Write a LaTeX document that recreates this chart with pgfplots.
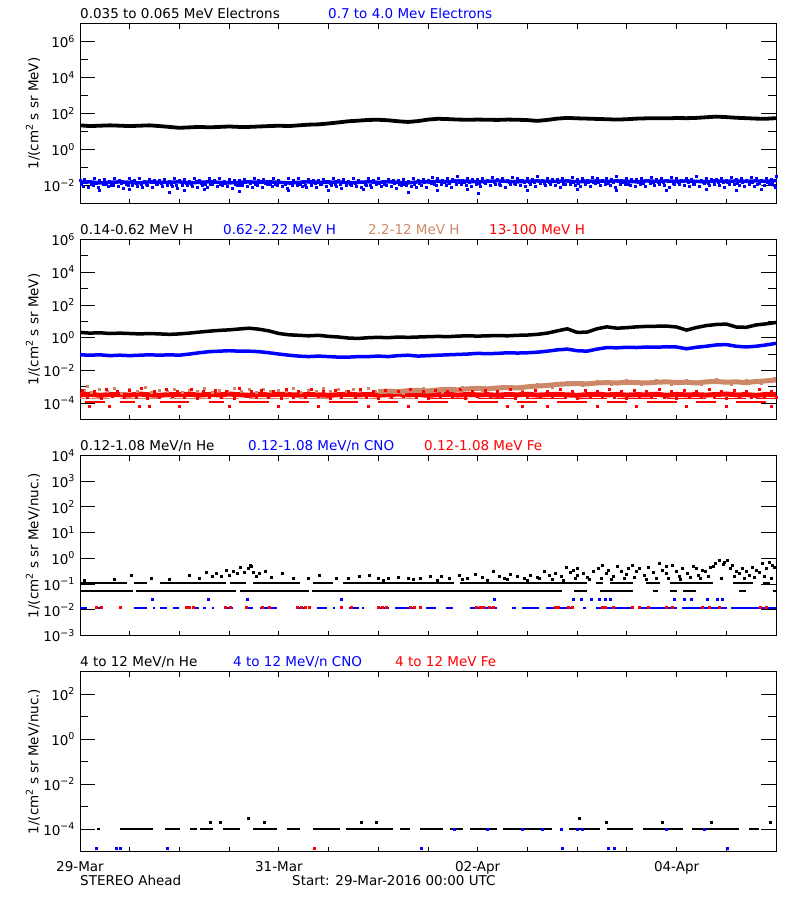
\documentclass[border=0pt]{standalone}
\usepackage{pgfplots}
\usepackage{pgfplotstable}
\pgfplotsset{compat=1.18}
\usepackage{fontspec}
\setmainfont{DejaVu Sans}
\definecolor{hblue}{RGB}{0,0,255}
\definecolor{hred}{RGB}{255,0,0}
\definecolor{hbrown}{RGB}{205,135,105}
\newcommand{\fs}{\fontsize{13.5bp}{16bp}\selectfont}
\newcommand{\sups}[1]{\raisebox{0.42em}{\fontsize{9.5bp}{10bp}\selectfont #1}}

\pgfplotsset{
  stpanel/.style={
    scale only axis, width=696bp, height=180bp,
    xmin=0, xmax=7,
    xtick={0,0.5,...,7}, xticklabels={},
    tick align=inside, tick pos=both,
    axis line style={line width=0.9bp},
    tick style={line width=0.9bp, black},
    major tick length=15bp, minor tick length=8bp,
    xtick style={/pgfplots/major tick length=5bp},
    ticklabel style={font=\fs},
    yticklabel style={xshift=-2bp},
    unbounded coords=jump,
  },
  dot/.style={only marks, mark=square*, mark size=1bp, mark options={line width=0pt}},
  seg/.style={line width=1.8bp},
}
\tikzset{t/.style={anchor=base west, inner sep=0pt}}

% d, low-energy electrons (v), 0.7-4 MeV electron band core (m)
\pgfplotstableread[row sep=\\]{
d v m\\
0.0 22 0.015\\ 0.1 20 0.016\\ 0.2 21 0.014\\ 0.3 22 0.015\\ 0.4 21 0.016\\ 0.5 20 0.015\\ 0.6 21 0.014\\ 0.7 22 0.016\\ 0.8 20 0.015\\ 0.9 18 0.015\\
1.0 16 0.016\\ 1.1 17 0.014\\ 1.2 18 0.015\\ 1.3 17 0.016\\ 1.4 18 0.015\\ 1.5 19 0.014\\ 1.6 18 0.015\\ 1.7 18 0.016\\ 1.8 19 0.015\\ 1.9 20 0.016\\
2.0 21 0.015\\ 2.1 20 0.014\\ 2.2 22 0.015\\ 2.3 24 0.016\\ 2.4 25 0.015\\ 2.5 28 0.015\\ 2.6 32 0.016\\ 2.7 37 0.014\\ 2.8 40 0.015\\ 2.9 44 0.016\\
3.0 45 0.015\\ 3.1 42 0.016\\ 3.2 37 0.015\\ 3.3 34 0.014\\ 3.4 38 0.016\\ 3.5 46 0.016\\ 3.6 51 0.017\\ 3.7 49 0.016\\ 3.8 46 0.018\\ 3.9 45 0.017\\
4.0 46 0.016\\ 4.1 45 0.017\\ 4.2 44 0.018\\ 4.3 46 0.017\\ 4.4 45 0.016\\ 4.5 43 0.017\\ 4.6 39 0.018\\ 4.7 44 0.017\\ 4.8 52 0.017\\ 4.9 57 0.018\\
5.0 54 0.016\\ 5.1 52 0.017\\ 5.2 50 0.018\\ 5.3 48 0.017\\ 5.4 46 0.018\\ 5.5 48 0.017\\ 5.6 52 0.016\\ 5.7 54 0.018\\ 5.8 55 0.017\\ 5.9 54 0.018\\
6.0 56 0.017\\ 6.1 55 0.018\\ 6.2 57 0.017\\ 6.3 62 0.016\\ 6.4 67 0.018\\ 6.5 63 0.017\\ 6.6 58 0.018\\ 6.7 55 0.017\\ 6.8 52 0.018\\ 6.9 51 0.017\\
7.0 55 0.019\\
}\elo

\pgfplotstableread[row sep=\\]{
d a xb b xc c\\
0.00 0.018 0.017 0.012 0.033 0.009\\ 0.05 0.022 0.067 0.014 0.083 0.008\\ 0.10 0.016 0.117 0.011 0.133 0.010\\ 0.15 0.025 0.167 0.013 0.183 0.0075\\
0.20 0.019 0.217 0.015 0.233 0.011\\ 0.25 0.021 0.267 0.012 0.283 0.0085\\ 0.30 0.017 0.317 0.010 0.333 0.010\\ 0.35 0.024 0.367 0.014 0.383 0.009\\
0.40 0.020 0.417 0.013 0.433 0.0068\\ 0.45 0.015 0.467 0.011 0.483 0.0095\\ 0.50 0.023 0.517 0.016 0.533 0.0105\\ 0.55 0.018 0.567 0.013 0.583 0.009\\
0.60 0.026 0.617 0.012 0.633 0.008\\ 0.65 0.017 0.667 0.012 0.683 0.010\\ 0.70 0.021 0.717 0.014 0.733 0.0075\\ 0.75 0.019 0.767 0.011 0.783 0.011\\
0.80 0.018 0.817 0.013 0.833 0.0085\\ 0.85 0.022 0.867 0.015 0.883 0.010\\ 0.90 0.016 0.917 0.012 0.933 0.009\\ 0.95 0.025 0.967 0.010 0.983 0.0068\\
1.00 0.019 1.017 0.014 1.033 0.0095\\ 1.05 0.021 1.067 0.013 1.083 0.0105\\ 1.10 0.017 1.117 0.011 1.133 0.009\\ 1.15 0.024 1.167 0.016 1.183 0.008\\
1.20 0.020 1.217 0.013 1.233 0.010\\ 1.25 0.015 1.267 0.012 1.283 0.0075\\ 1.30 0.023 1.317 0.012 1.333 0.011\\ 1.35 0.018 1.367 0.014 1.383 0.0085\\
1.40 0.026 1.417 0.011 1.433 0.010\\ 1.45 0.017 1.467 0.013 1.483 0.009\\ 1.50 0.021 1.517 0.015 1.533 0.0068\\ 1.55 0.019 1.567 0.012 1.583 0.0095\\
1.60 0.018 1.617 0.010 1.633 0.0105\\ 1.65 0.022 1.667 0.014 1.683 0.009\\ 1.70 0.016 1.717 0.013 1.733 0.008\\ 1.75 0.025 1.767 0.011 1.783 0.010\\
1.80 0.019 1.817 0.016 1.833 0.0075\\ 1.85 0.021 1.867 0.013 1.883 0.011\\ 1.90 0.017 1.917 0.012 1.933 0.0085\\ 1.95 0.024 1.967 0.012 1.983 0.010\\
2.00 0.020 2.017 0.014 2.033 0.009\\ 2.05 0.015 2.067 0.011 2.083 0.0068\\ 2.10 0.023 2.117 0.013 2.133 0.0095\\ 2.15 0.018 2.167 0.015 2.183 0.0105\\
2.20 0.026 2.217 0.012 2.233 0.009\\ 2.25 0.017 2.267 0.010 2.283 0.008\\ 2.30 0.021 2.317 0.014 2.333 0.010\\ 2.35 0.019 2.367 0.013 2.383 0.0075\\
2.40 0.018 2.417 0.011 2.433 0.011\\ 2.45 0.022 2.467 0.016 2.483 0.0085\\ 2.50 0.016 2.517 0.013 2.533 0.010\\ 2.55 0.025 2.567 0.012 2.583 0.009\\
2.60 0.019 2.617 0.012 2.633 0.0068\\ 2.65 0.021 2.667 0.014 2.683 0.0095\\ 2.70 0.017 2.717 0.011 2.733 0.0105\\ 2.75 0.024 2.767 0.013 2.783 0.009\\
2.80 0.020 2.817 0.015 2.833 0.008\\ 2.85 0.015 2.867 0.012 2.883 0.010\\ 2.90 0.023 2.917 0.010 2.933 0.0075\\ 2.95 0.018 2.967 0.014 2.983 0.011\\
3.00 0.026 3.017 0.013 3.033 0.0085\\ 3.05 0.017 3.067 0.011 3.083 0.010\\ 3.10 0.021 3.117 0.016 3.133 0.009\\ 3.15 0.019 3.167 0.013 3.183 0.0068\\
3.20 0.018 3.217 0.012 3.233 0.0095\\ 3.25 0.022 3.267 0.012 3.283 0.0105\\ 3.30 0.016 3.317 0.014 3.333 0.009\\ 3.35 0.025 3.367 0.011 3.383 0.008\\
3.40 0.019 3.417 0.013 3.433 0.010\\ 3.45 0.021 3.467 0.015 3.483 0.0075\\ 3.50 0.020 3.517 0.014 3.533 0.013\\ 3.55 0.028 3.567 0.012 3.583 0.0098\\
3.60 0.023 3.617 0.016 3.633 0.012\\ 3.65 0.018 3.667 0.015 3.683 0.010\\ 3.70 0.026 3.717 0.013 3.733 0.0078\\ 3.75 0.021 3.767 0.018 3.783 0.011\\
3.80 0.030 3.817 0.015 3.833 0.012\\ 3.85 0.020 3.867 0.014 3.883 0.010\\ 3.90 0.024 3.917 0.014 3.933 0.009\\ 3.95 0.022 3.967 0.016 3.983 0.012\\
4.00 0.021 4.017 0.013 4.033 0.0086\\ 4.05 0.025 4.067 0.015 4.083 0.013\\ 4.10 0.019 4.117 0.017 4.133 0.0098\\ 4.15 0.029 4.167 0.014 4.183 0.012\\
4.20 0.022 4.217 0.012 4.233 0.010\\ 4.25 0.024 4.267 0.016 4.283 0.0078\\ 4.30 0.020 4.317 0.015 4.333 0.011\\ 4.35 0.028 4.367 0.013 4.383 0.012\\
4.40 0.023 4.417 0.018 4.433 0.010\\ 4.45 0.018 4.467 0.015 4.483 0.009\\ 4.50 0.026 4.517 0.014 4.533 0.012\\ 4.55 0.021 4.567 0.014 4.583 0.0086\\
4.60 0.030 4.617 0.016 4.633 0.013\\ 4.65 0.020 4.667 0.013 4.683 0.0098\\ 4.70 0.024 4.717 0.015 4.733 0.012\\ 4.75 0.022 4.767 0.017 4.783 0.010\\
4.80 0.021 4.817 0.014 4.833 0.0078\\ 4.85 0.025 4.867 0.012 4.883 0.011\\ 4.90 0.019 4.917 0.016 4.933 0.012\\ 4.95 0.029 4.967 0.015 4.983 0.010\\
5.00 0.022 5.017 0.013 5.033 0.009\\ 5.05 0.024 5.067 0.018 5.083 0.012\\ 5.10 0.020 5.117 0.015 5.133 0.0086\\ 5.15 0.028 5.167 0.014 5.183 0.013\\
5.20 0.023 5.217 0.014 5.233 0.0098\\ 5.25 0.018 5.267 0.016 5.283 0.012\\ 5.30 0.026 5.317 0.013 5.333 0.010\\ 5.35 0.021 5.367 0.015 5.383 0.0078\\
5.40 0.030 5.417 0.017 5.433 0.011\\ 5.45 0.020 5.467 0.014 5.483 0.012\\ 5.50 0.024 5.517 0.012 5.533 0.010\\ 5.55 0.022 5.567 0.016 5.583 0.009\\
5.60 0.021 5.617 0.015 5.633 0.012\\ 5.65 0.025 5.667 0.013 5.683 0.0086\\ 5.70 0.019 5.717 0.018 5.733 0.013\\ 5.75 0.029 5.767 0.015 5.783 0.0098\\
5.80 0.022 5.817 0.014 5.833 0.012\\ 5.85 0.024 5.867 0.014 5.883 0.010\\ 5.90 0.020 5.917 0.016 5.933 0.0078\\ 5.95 0.028 5.967 0.013 5.983 0.011\\
6.00 0.023 6.017 0.015 6.033 0.012\\ 6.05 0.018 6.067 0.017 6.083 0.010\\ 6.10 0.026 6.117 0.014 6.133 0.009\\ 6.15 0.021 6.167 0.012 6.183 0.012\\
6.20 0.030 6.217 0.016 6.233 0.0086\\ 6.25 0.020 6.267 0.015 6.283 0.013\\ 6.30 0.024 6.317 0.013 6.333 0.0098\\ 6.35 0.022 6.367 0.018 6.383 0.012\\
6.40 0.021 6.417 0.015 6.433 0.010\\ 6.45 0.025 6.467 0.014 6.483 0.0078\\ 6.50 0.019 6.517 0.014 6.533 0.011\\ 6.55 0.029 6.567 0.016 6.583 0.012\\
6.60 0.022 6.617 0.013 6.633 0.010\\ 6.65 0.024 6.667 0.015 6.683 0.009\\ 6.70 0.020 6.717 0.017 6.733 0.012\\ 6.75 0.028 6.767 0.014 6.783 0.0086\\
6.80 0.023 6.817 0.012 6.833 0.013\\ 6.85 0.018 6.867 0.016 6.883 0.0098\\ 6.90 0.026 6.917 0.015 6.933 0.012\\ 6.95 0.021 6.967 0.013 6.983 0.010\\
7.00 0.030 6.995 0.018 6.998 0.0078\\
}\ehi

\pgfplotstableread[row sep=\\]{
d k b\\
0.0 2.1 0.09\\ 0.1 1.9 0.085\\ 0.2 2.0 0.09\\ 0.3 1.8 0.08\\ 0.4 1.9 0.085\\
0.5 1.8 0.08\\ 0.6 1.7 0.085\\ 0.7 1.8 0.09\\ 0.8 1.7 0.085\\ 0.9 1.6 0.09\\
1.0 1.7 0.085\\ 1.1 1.9 0.10\\ 1.2 2.2 0.12\\ 1.3 2.5 0.14\\ 1.4 2.8 0.15\\
1.5 3.0 0.16\\ 1.6 3.4 0.15\\ 1.7 3.8 0.15\\ 1.8 3.3 0.14\\ 1.9 2.6 0.12\\
2.0 1.8 0.10\\ 2.1 1.5 0.085\\ 2.2 1.4 0.075\\ 2.3 1.3 0.07\\ 2.4 1.4 0.075\\
2.5 1.2 0.07\\ 2.6 1.1 0.065\\ 2.7 0.95 0.065\\ 2.8 0.9 0.07\\ 2.9 1.0 0.07\\
3.0 1.05 0.075\\ 3.1 1.0 0.07\\ 3.2 1.1 0.08\\ 3.3 1.05 0.085\\ 3.4 1.1 0.075\\
3.5 1.15 0.08\\ 3.6 1.2 0.085\\ 3.7 1.15 0.09\\ 3.8 1.25 0.095\\ 3.9 1.3 0.10\\
4.0 1.25 0.11\\ 4.1 1.3 0.105\\ 4.2 1.35 0.11\\ 4.3 1.3 0.12\\ 4.4 1.4 0.115\\
4.5 1.45 0.12\\ 4.6 1.6 0.13\\ 4.7 1.9 0.15\\ 4.8 2.6 0.18\\ 4.9 3.5 0.20\\
5.0 2.1 0.16\\ 5.1 2.2 0.15\\ 5.2 3.5 0.20\\ 5.3 4.6 0.25\\ 5.4 3.8 0.24\\
5.5 4.1 0.26\\ 5.6 4.6 0.25\\ 5.7 4.9 0.27\\ 5.8 5.0 0.26\\ 5.9 5.1 0.28\\
6.0 4.5 0.27\\ 6.1 2.9 0.21\\ 6.2 4.2 0.26\\ 6.3 5.5 0.30\\ 6.4 6.4 0.36\\
6.5 6.8 0.38\\ 6.6 4.5 0.30\\ 6.7 4.3 0.27\\ 6.8 6.0 0.30\\ 6.9 7.0 0.36\\
7.0 8.5 0.45\\
}\hlo

\pgfplotstableread[row sep=\\]{
d v\\
0.0 3.2e-4\\ 0.1 3.5e-4\\ 0.2 3.0e-4\\ 0.3 3.4e-4\\ 0.4 3.3e-4\\ 0.5 3.1e-4\\ 0.6 3.6e-4\\ 0.7 3.2e-4\\
0.8 3.0e-4\\ 0.9 3.4e-4\\ 1.0 3.3e-4\\ 1.1 3.5e-4\\ 1.2 3.1e-4\\ 1.3 3.4e-4\\ 1.4 3.2e-4\\ 1.5 3.6e-4\\
1.6 3.3e-4\\ 1.7 3.0e-4\\ 1.8 3.4e-4\\ 1.9 3.2e-4\\ 2.0 3.5e-4\\ 2.1 3.3e-4\\ 2.2 3.1e-4\\ 2.3 3.4e-4\\
2.4 3.2e-4\\ 2.5 3.0e-4\\ 2.6 3.3e-4\\ 2.7 3.5e-4\\ 2.8 3.2e-4\\ 2.9 3.4e-4\\ 3.0 3.1e-4\\ 3.1 3.3e-4\\
3.2 3.6e-4\\ 3.3 3.2e-4\\ 3.4 3.4e-4\\ 3.5 3.0e-4\\ 3.6 3.3e-4\\ 3.7 3.5e-4\\ 3.8 3.1e-4\\ 3.9 3.4e-4\\
4.0 3.2e-4\\ 4.1 3.3e-4\\ 4.2 3.0e-4\\ 4.3 3.4e-4\\ 4.4 3.2e-4\\ 4.5 3.5e-4\\ 4.6 3.1e-4\\ 4.7 3.3e-4\\
4.8 3.4e-4\\ 4.9 3.2e-4\\ 5.0 3.0e-4\\ 5.1 3.3e-4\\ 5.2 3.5e-4\\ 5.3 3.2e-4\\ 5.4 3.4e-4\\ 5.5 3.1e-4\\
5.6 3.3e-4\\ 5.7 3.2e-4\\ 5.8 3.5e-4\\ 5.9 3.0e-4\\ 6.0 3.4e-4\\ 6.1 3.2e-4\\ 6.2 3.3e-4\\ 6.3 3.1e-4\\
6.4 3.4e-4\\ 6.5 3.6e-4\\ 6.6 3.2e-4\\ 6.7 3.3e-4\\ 6.8 3.0e-4\\ 6.9 3.4e-4\\ 7.0 3.3e-4\\
}\redband

\pgfplotstableread[row sep=\\]{
d v\\
3.0 5.0e-4\\ 3.1 5.5e-4\\ 3.2 5.0e-4\\ 3.3 5.8e-4\\ 3.4 6.0e-4\\ 3.5 5.5e-4\\ 3.6 6.5e-4\\ 3.7 7.0e-4\\
3.8 6.5e-4\\ 3.9 7.5e-4\\ 4.0 8.0e-4\\ 4.1 7.5e-4\\ 4.2 8.5e-4\\ 4.3 9.0e-4\\ 4.4 8.5e-4\\ 4.5 1.0e-3\\
4.6 1.1e-3\\ 4.7 1.2e-3\\ 4.8 1.4e-3\\ 4.9 1.5e-3\\ 5.0 1.6e-3\\ 5.1 1.5e-3\\ 5.2 1.7e-3\\ 5.3 1.8e-3\\
5.4 1.7e-3\\ 5.5 1.9e-3\\ 5.6 1.8e-3\\ 5.7 1.7e-3\\ 5.8 1.9e-3\\ 5.9 2.0e-3\\ 6.0 1.8e-3\\ 6.1 1.9e-3\\
6.2 1.7e-3\\ 6.3 2.0e-3\\ 6.4 2.1e-3\\ 6.5 1.9e-3\\ 6.6 2.0e-3\\ 6.7 1.8e-3\\ 6.8 2.1e-3\\ 6.9 2.3e-3\\
7.0 2.6e-3\\
}\brownband

\begin{document}
\begin{tikzpicture}[font=\fs]
\path[use as bounding box] (0,0) rectangle (800bp,-900bp);

% ---------------- Panel 1 ----------------
\begin{axis}[stpanel, ymode=log, at={(80bp,-23.5bp)}, anchor=north west,
  ymin=1e-3, ymax=1e7,
  ytick={1e-2,1,1e2,1e4,1e6},
  yticklabels={10\sups{−2},10\sups{0},10\sups{2},10\sups{4},10\sups{6}},
  minor ytick={1e-1,1e1,1e3,1e5}]
\addplot[black, line width=3.8bp, line join=round] table[x=d,y=v]{\elo};
\addplot[hblue, line width=3.5bp, line join=round] table[x=d,y=m]{\elo};
\addplot[dot, hblue] table[x=d,y=a]{\ehi};
\addplot[dot, hblue] table[x=xb,y=b]{\ehi};
\addplot[dot, hblue] table[x=xc,y=c]{\ehi};
\addplot[dot, hblue] coordinates {(0.2,0.005)(0.5,0.006)(0.9,0.004)(1.05,0.005)(1.25,0.006)(1.6,0.0045)
 (2.1,0.0055)(2.5,0.005)(2.85,0.006)(3.3,0.0042)(3.6,0.0055)(3.9,0.006)(4.01,0.0035)(4.5,0.005)
 (5.0,0.006)(5.4,0.005)(5.9,0.0055)(6.3,0.006)(6.6,0.005)(6.85,0.006)};
\end{axis}
\node[t] at (80bp,-18.3bp) {0.035 to 0.065 MeV Electrons};
\node[t, text=hblue] at (328bp,-18.3bp) {0.7 to 4.0 Mev Electrons};
\node[rotate=90] at (33bp,-113.5bp) {1/(cm\sups{2} s sr MeV)};

% ---------------- Panel 2 ----------------
\begin{axis}[stpanel, ymode=log, at={(80bp,-239.5bp)}, anchor=north west,
  ymin=1e-5, ymax=1e6,
  ytick={1e-4,1e-2,1,1e2,1e4,1e6},
  yticklabels={10\sups{−4},10\sups{−2},10\sups{0},10\sups{2},10\sups{4},10\sups{6}},
  minor ytick={1e-3,1e-1,1e1,1e3,1e5}]
\addplot[dot, hbrown] coordinates {(0.05,6e-4)(0.12,4.5e-4)(0.2,7e-4)(0.28,5e-4)(0.35,8e-4)(0.42,4e-4)
 (0.5,6.5e-4)(0.58,5e-4)(0.66,9e-4)(0.72,4.5e-4)(0.8,6e-4)(0.88,5.5e-4)(0.95,7e-4)(1.03,4.5e-4)
 (1.1,6e-4)(1.18,5e-4)(1.25,7.5e-4)(1.33,4.5e-4)(1.4,6e-4)(1.48,5.5e-4)(1.55,8e-4)(1.62,5e-4)
 (1.7,6.5e-4)(1.78,4.5e-4)(1.85,7e-4)(1.92,5e-4)(2.0,6e-4)(2.08,5.5e-4)(2.15,7.5e-4)(2.22,4.5e-4)
 (2.3,6e-4)(2.38,5e-4)(2.45,8e-4)(2.52,5.5e-4)(2.6,6.5e-4)(2.68,5e-4)(2.75,7e-4)(2.82,6e-4)
 (2.9,8e-4)(2.97,5.5e-4)(0.08,1e-3)};
\addplot[seg, hbrown] coordinates {(0.0,1.9e-4)(0.3,1.9e-4)(0.35,nan)(0.4,1.9e-4)(0.8,1.9e-4)(0.85,nan)
 (0.9,1.9e-4)(1.3,1.9e-4)(1.35,nan)(1.4,1.9e-4)(1.6,1.9e-4)(1.65,nan)(1.7,1.9e-4)(2.1,1.9e-4)(2.15,nan)
 (2.2,1.9e-4)(2.5,1.9e-4)(2.55,nan)(2.6,1.9e-4)(3.0,1.9e-4)(3.05,nan)(3.1,1.9e-4)(3.4,1.9e-4)};
\addplot[hred, line width=5bp] table[x=d,y=v]{\redband};
\addplot[dot, hred] coordinates {(0.03,6e-4)(0.15,5e-4)(0.27,7e-4)(0.38,5.5e-4)(0.5,6e-4)(0.62,8e-4)
 (0.75,5e-4)(0.87,6.5e-4)(0.98,5.5e-4)(1.12,7e-4)(1.24,5e-4)(1.36,6e-4)(1.47,5.5e-4)(1.6,7.5e-4)
 (1.72,5e-4)(1.83,6e-4)(1.95,5.5e-4)(2.08,7e-4)(2.2,5e-4)(2.33,6.5e-4)(2.45,5.5e-4)(2.57,6e-4)
 (2.7,5e-4)(2.82,7e-4)(2.95,5.5e-4)(3.07,6e-4)(3.2,5e-4)(3.32,6.5e-4)(3.45,5.5e-4)(3.58,6e-4)
 (3.7,5e-4)(3.83,7e-4)(3.95,5.5e-4)(4.08,6e-4)(4.2,5e-4)(4.33,6.5e-4)(4.45,5.5e-4)(4.58,6e-4)
 (4.7,5e-4)(4.83,7e-4)(4.95,5.5e-4)(5.08,6e-4)(5.2,5e-4)(5.33,6.5e-4)(5.45,5.5e-4)(5.58,6e-4)
 (5.7,5e-4)(5.83,7e-4)(5.95,5.5e-4)(6.08,6e-4)(6.2,5e-4)(6.33,6.5e-4)(6.45,5.5e-4)(6.58,6e-4)
 (6.7,5e-4)(6.83,7e-4)(6.95,5.5e-4)};
\addplot[dot, hred] coordinates {(0.08,2.2e-4)(0.22,2.0e-4)(0.33,2.4e-4)(0.45,2.1e-4)(0.57,2.3e-4)
 (0.68,2.0e-4)(0.8,2.2e-4)(0.93,2.4e-4)(1.05,2.1e-4)(1.18,2.0e-4)(1.3,2.3e-4)(1.42,2.2e-4)(1.55,2.0e-4)
 (1.67,2.4e-4)(1.78,2.1e-4)(1.9,2.2e-4)(2.03,2.0e-4)(2.15,2.3e-4)(2.27,2.1e-4)(2.4,2.4e-4)(2.52,2.0e-4)
 (2.63,2.2e-4)(2.77,2.1e-4)(2.88,2.3e-4)(3.0,2.0e-4)(3.13,2.2e-4)(3.25,2.4e-4)(3.38,2.1e-4)(3.5,2.0e-4)
 (3.63,2.3e-4)(3.75,2.2e-4)(3.88,2.0e-4)(4.0,2.4e-4)(4.13,2.1e-4)(4.25,2.2e-4)(4.38,2.0e-4)(4.5,2.3e-4)
 (4.63,2.1e-4)(4.75,2.2e-4)(4.88,2.4e-4)(5.0,2.0e-4)(5.13,2.2e-4)(5.25,2.1e-4)(5.38,2.3e-4)(5.5,2.0e-4)
 (5.63,2.2e-4)(5.75,2.4e-4)(5.88,2.1e-4)(6.0,2.0e-4)(6.13,2.2e-4)(6.25,2.3e-4)(6.38,2.1e-4)(6.5,2.0e-4)
 (6.63,2.4e-4)(6.75,2.2e-4)(6.88,2.1e-4)(7.0,2.3e-4)};
\addplot[seg, hred] coordinates {(3.5,1.9e-4)(3.9,1.9e-4)(3.95,nan)(4.0,1.9e-4)(4.4,1.9e-4)(4.45,nan)
 (4.5,1.9e-4)(4.9,1.9e-4)(4.95,nan)(5.0,1.9e-4)(5.3,1.9e-4)(5.35,nan)(5.4,1.9e-4)(5.8,1.9e-4)(5.85,nan)
 (5.9,1.9e-4)(6.3,1.9e-4)(6.35,nan)(6.4,1.9e-4)(6.7,1.9e-4)(6.75,nan)(6.8,1.9e-4)(7.0,1.9e-4)};
\addplot[seg, hred] coordinates {(0.05,1.2e-4)(0.25,1.2e-4)(0.3,nan)(0.4,1.2e-4)(0.55,1.2e-4)(0.6,nan)
 (0.8,1.2e-4)(1.1,1.2e-4)(1.15,nan)(1.3,1.2e-4)(1.45,1.2e-4)(1.5,nan)(1.6,1.2e-4)(1.9,1.2e-4)(1.95,nan)
 (2.1,1.2e-4)(2.3,1.2e-4)(2.35,nan)(2.5,1.2e-4)(2.8,1.2e-4)(2.85,nan)(3.0,1.2e-4)(3.2,1.2e-4)(3.25,nan)
 (3.4,1.2e-4)(3.7,1.2e-4)(3.75,nan)(3.9,1.2e-4)(4.2,1.2e-4)(4.25,nan)(4.4,1.2e-4)(4.6,1.2e-4)(4.65,nan)
 (4.8,1.2e-4)(5.1,1.2e-4)(5.15,nan)(5.3,1.2e-4)(5.5,1.2e-4)(5.55,nan)(5.7,1.2e-4)(6.0,1.2e-4)(6.05,nan)
 (6.2,1.2e-4)(6.4,1.2e-4)(6.45,nan)(6.6,1.2e-4)(6.9,1.2e-4)};
\addplot[dot, hred] coordinates {(0.1,6e-5)(0.3,6e-5)(0.6,6e-5)(0.7,6e-5)(1.0,6e-5)(1.5,6e-5)(2.0,6e-5)
 (2.4,6e-5)(2.9,6e-5)(3.3,6e-5)(4.3,6e-5)(4.45,6e-5)(4.7,6e-5)(5.2,6e-5)(5.6,6e-5)(6.1,6e-5)(6.5,6e-5)(6.95,6e-5)};
\addplot[hbrown, line width=5bp] table[x=d,y=v]{\brownband};
\addplot[dot, hbrown] coordinates {(3.25,4e-4)(3.45,8e-4)(3.65,4.5e-4)(3.85,9.5e-4)(4.05,5.5e-4)(4.25,1.1e-3)
 (4.45,6.5e-4)(4.6,1.4e-3)(4.75,9e-4)(4.9,1.9e-3)(5.05,1.2e-3)(5.2,2.2e-3)(5.35,1.4e-3)(5.5,2.4e-3)
 (5.65,1.3e-3)(5.8,2.3e-3)(5.95,1.4e-3)(6.1,2.5e-3)(6.25,1.3e-3)(6.4,2.6e-3)(6.55,1.4e-3)(6.7,2.4e-3)
 (6.85,1.5e-3)(6.98,3.2e-3)};
\addplot[hblue, line width=3.5bp, line join=round] table[x=d,y=b]{\hlo};
\addplot[black, line width=3.5bp, line join=round] table[x=d,y=k]{\hlo};
\end{axis}
\node[t] at (80bp,-234.3bp) {0.14-0.62 MeV H};
\node[t, text=hblue] at (223bp,-234.3bp) {0.62-2.22 MeV H};
\node[t, text=hbrown] at (368bp,-234.3bp) {2.2-12 MeV H};
\node[t, text=hred] at (489bp,-234.3bp) {13-100 MeV H};
\node[rotate=90] at (33bp,-329.5bp) {1/(cm\sups{2} s sr MeV)};

% ---------------- Panel 3 ----------------
\begin{axis}[stpanel, ymode=log, at={(80bp,-455.5bp)}, anchor=north west,
  ymin=1e-3, ymax=1e4, yminorticks=false,
  ytick={1e-3,1e-2,1e-1,1,1e1,1e2,1e3,1e4},
  yticklabels={10\sups{−3},10\sups{−2},10\sups{−1},10\sups{0},10\sups{1},10\sups{2},10\sups{3},10\sups{4}}]
\addplot[seg, black] coordinates {(0.0,0.055)(0.53,0.055)(0.54,nan)(0.56,0.055)(1.57,0.055)(1.59,nan)
 (1.61,0.055)(2.3,0.055)(2.31,nan)(2.33,0.055)(4.85,0.055)(4.9,nan)(4.97,0.055)(5.1,0.055)(5.15,nan)
 (5.23,0.055)(5.56,0.055)(5.6,nan)(5.76,0.055)(5.81,0.055)(5.85,nan)(5.93,0.055)(6.0,0.055)(6.02,nan)
 (6.06,0.055)(6.2,0.055)(6.3,nan)(6.63,0.055)(6.7,0.055)(6.8,nan)(6.97,0.055)(7.0,0.055)};
\addplot[seg, black] coordinates {(0.0,0.11)(0.47,0.11)(0.5,nan)(0.54,0.11)(0.67,0.11)(0.7,nan)
 (0.8,0.11)(1.47,0.11)(1.49,nan)(1.51,0.11)(1.67,0.11)(1.7,nan)(1.74,0.11)(2.21,0.11)(2.25,nan)
 (2.34,0.11)(2.54,0.11)(2.6,nan)(2.65,0.11)(3.76,0.11)(3.79,nan)(3.82,0.11)(5.1,0.11)(5.15,nan)
 (5.19,0.11)(5.26,0.11)(5.3,nan)(5.33,0.11)(5.56,0.11)(5.6,nan)(5.69,0.11)(5.83,0.11)(5.9,nan)
 (5.93,0.11)(6.37,0.11)(6.4,nan)(6.57,0.11)(6.77,0.11)(6.8,nan)(6.87,0.11)(6.94,0.11)};
\addplot[dot, black] coordinates {(0.05,0.14)(0.35,0.15)(0.52,0.21)(0.72,0.16)(0.9,0.15)(1.1,0.21)
 (1.2,0.17)(1.27,0.27)(1.33,0.19)(1.37,0.26)(1.42,0.2)(1.47,0.35)(1.5,0.22)(1.54,0.3)(1.58,0.25)
 (1.61,0.45)(1.65,0.28)(1.69,0.4)(1.71,0.55)(1.72,0.48)(1.74,0.27)(1.78,0.2)(1.81,0.26)(1.87,0.3)
 (1.93,0.18)(2.04,0.26)(2.15,0.17)(2.3,0.16)(2.41,0.21)(2.58,0.17)(2.7,0.16)(2.81,0.19)(2.91,0.21)
 (3.0,0.17)(3.1,0.16)(3.2,0.18)(3.3,0.16)(3.42,0.17)(3.53,0.19)(3.64,0.2)(3.72,0.16)(3.82,0.21)
 (3.9,0.17)(3.98,0.24)(4.05,0.18)(4.16,0.3)(4.22,0.2)(4.27,0.17)(4.33,0.24)(4.4,0.19)(4.47,0.16)
 (4.53,0.21)(4.6,0.18)(4.67,0.3)(4.72,0.22)(4.78,0.26)(4.84,0.19)(4.89,0.45)(4.93,0.28)(4.96,0.35)
 (5.0,0.22)(5.06,0.26)(5.1,0.18)(5.16,0.3)(5.21,0.39)(5.26,0.55)(5.3,0.25)(5.32,0.35)(5.37,0.2)
 (5.41,0.5)(5.45,0.3)(5.5,0.24)(5.56,0.55)(5.6,0.3)(5.63,0.39)(5.68,0.22)(5.72,0.45)(5.77,0.28)
 (5.83,0.63)(5.86,0.35)(5.9,0.25)(5.96,0.55)(6.0,0.3)(6.03,0.2)(6.06,0.39)(6.11,0.26)(6.17,0.5)
 (6.22,0.22)(6.26,0.35)(6.29,0.3)(6.34,0.45)(6.39,0.63)(6.43,0.81)(6.47,0.6)(6.51,0.85)(6.54,0.4)
 (6.56,0.55)(6.6,0.3)(6.63,0.25)(6.66,0.39)(6.7,0.3)(6.73,0.22)(6.76,0.45)(6.8,0.35)(6.83,0.28)
 (6.86,0.63)(6.9,0.4)(6.93,0.72)(6.96,0.55)(6.98,0.45)
 (3.05,0.14)(3.35,0.15)(3.6,0.14)(3.85,0.15)(4.1,0.14)(4.3,0.15)(4.5,0.14)(4.62,0.16)(4.75,0.15)
 (4.86,0.14)(4.98,0.16)(5.12,0.15)(5.24,0.17)(5.35,0.15)(5.48,0.16)(5.58,0.18)(5.7,0.15)(5.8,0.17)
 (5.92,0.16)(6.04,0.15)(6.14,0.18)(6.24,0.16)(6.32,0.2)(6.45,0.17)(6.58,0.19)(6.68,0.16)(6.78,0.18)
 (6.88,0.2)(6.95,0.17)(5.0,0.42)(5.52,0.4)(6.2,0.42)(6.48,0.7)(6.37,0.5)(5.9,0.5)};
\addplot[seg, hblue] coordinates {(0.0,0.012)(0.07,0.012)(0.1,nan)(0.17,0.012)(0.2,0.012)(0.25,nan)
 (0.39,0.012)(0.42,0.012)(0.45,nan)(0.54,0.012)(0.67,0.012)(0.7,nan)(0.73,0.012)(0.75,0.012)(0.77,nan)
 (0.8,0.012)(0.87,0.012)(0.9,nan)(0.94,0.012)(1.0,0.012)(1.03,nan)(1.06,0.012)(1.08,0.012)(1.1,nan)
 (1.16,0.012)(1.2,0.012)(1.22,nan)(1.24,0.012)(1.27,0.012)(1.3,nan)(1.33,0.012)(1.35,0.012)(1.4,nan)
 (1.47,0.012)(1.54,0.012)(1.6,nan)(1.67,0.012)(1.74,0.012)(1.77,nan)(1.81,0.012)(1.98,0.012)(2.05,nan)
 (2.18,0.012)(2.28,0.012)(2.33,nan)(2.38,0.012)(2.48,0.012)(2.5,nan)(2.54,0.012)(2.56,0.012)(2.6,nan)
 (2.71,0.012)(2.81,0.012)(2.83,nan)(2.84,0.012)(2.86,0.012)(2.9,nan)(3.01,0.012)(3.11,0.012)(3.15,nan)
 (3.17,0.012)(3.38,0.012)(3.42,nan)(3.48,0.012)(3.58,0.012)(3.62,nan)(3.68,0.012)(3.75,0.012)(3.8,nan)
 (3.92,0.012)(4.19,0.012)(4.25,nan)(4.34,0.012)(4.39,0.012)(4.42,nan)(4.45,0.012)(4.62,0.012)(4.65,nan)
 (4.69,0.012)(4.96,0.012)(5.0,nan)(5.06,0.012)(5.09,0.012)(5.13,nan)(5.19,0.012)(5.56,0.012)(5.6,nan)
 (5.63,0.012)(6.0,0.012)(6.03,nan)(6.05,0.012)(6.51,0.012)(6.53,nan)(6.55,0.012)(7.0,0.012)};
\addplot[dot, hblue] coordinates {(0.73,0.025)(1.29,0.025)(1.68,0.025)(2.63,0.025)(4.17,0.025)(4.96,0.025)
 (5.04,0.025)(5.14,0.025)(5.22,0.025)(5.29,0.025)(5.34,0.025)(5.98,0.025)(6.08,0.025)(6.15,0.025)
 (6.31,0.025)(6.41,0.025)(6.46,0.025)};
\addplot[dot, hred] coordinates {(0.17,0.012)(0.22,0.012)(0.41,0.012)(1.07,0.012)(1.1,0.012)(1.14,0.012)
 (1.46,0.012)(1.51,0.012)(1.67,0.012)(1.84,0.012)(1.91,0.012)(2.19,0.012)(2.23,0.012)(2.27,0.012)
 (2.31,0.012)(2.63,0.012)(2.73,0.012)(3.0,0.012)(3.04,0.012)(3.08,0.012)(3.32,0.012)(3.36,0.012)
 (3.42,0.012)(3.99,0.012)(4.03,0.012)(4.06,0.012)(4.12,0.012)(4.16,0.012)(4.78,0.012)(4.81,0.012)
 (4.91,0.012)(4.95,0.012)(5.25,0.012)(5.29,0.012)(5.37,0.012)(5.56,0.012)(5.63,0.012)(5.72,0.012)
 (5.9,0.012)(5.96,0.012)(6.26,0.012)(6.33,0.012)(6.43,0.012)(6.84,0.012)(6.9,0.012)};
\end{axis}
\node[t] at (80bp,-450.3bp) {0.12-1.08 MeV/n He};
\node[t, text=hblue] at (248bp,-450.3bp) {0.12-1.08 MeV/n CNO};
\node[t, text=hred] at (424bp,-450.3bp) {0.12-1.08 MeV Fe};
\node[rotate=90] at (33bp,-545.5bp) {1/(cm\sups{2} s sr MeV/nuc.)};

% ---------------- Panel 4 ----------------
\begin{axis}[stpanel, ymode=log, at={(80bp,-671.5bp)}, anchor=north west,
  ymin=1e-5, ymax=1e3,
  ytick={1e-4,1e-2,1,1e2},
  yticklabels={10\sups{−4},10\sups{−2},10\sups{0},10\sups{2}},
  minor ytick={1e-3,1e-1,1e1},
  xticklabels={29-Mar,,,,31-Mar,,,,02-Apr,,,,04-Apr,,,},
  xticklabel style={anchor=base, inner sep=0pt, yshift=-20bp}]
\addplot[seg, black, line width=1.6bp] coordinates {(0.17,1e-4)(0.20,1e-4)(0.3,nan)(0.40,1e-4)(0.73,1e-4)(0.75,nan)
 (0.85,1e-4)(1.01,1e-4)(1.05,nan)(1.11,1e-4)(1.18,1e-4)(1.19,nan)(1.21,1e-4)(1.34,1e-4)(1.4,nan)
 (1.44,1e-4)(1.61,1e-4)(1.7,nan)(1.74,1e-4)(1.98,1e-4)(2.0,nan)(2.08,1e-4)(2.21,1e-4)(2.3,nan)
 (2.34,1e-4)(2.61,1e-4)(2.65,nan)(2.68,1e-4)(3.15,1e-4)(3.2,nan)(3.22,1e-4)(3.32,1e-4)(3.4,nan)
 (3.42,1e-4)(3.65,1e-4)(3.7,nan)(3.72,1e-4)(3.85,1e-4)(3.9,nan)(3.92,1e-4)(4.19,1e-4)(4.2,nan)
 (4.25,1e-4)(4.75,1e-4)(4.8,nan)(4.92,1e-4)(5.23,1e-4)(5.25,nan)(5.30,1e-4)(5.56,1e-4)(5.6,nan)
 (5.66,1e-4)(6.06,1e-4)(6.1,nan)(6.16,1e-4)(6.63,1e-4)(6.7,nan)(6.73,1e-4)(6.83,1e-4)};
\addplot[dot, black] coordinates {(1.31,2e-4)(1.41,2e-4)(1.69,3e-4)(1.86,2e-4)(2.83,2e-4)(2.98,2e-4)
 (5.02,3e-4)(5.30,2e-4)(5.86,2e-4)(6.35,2e-4)(6.94,2e-4)};
\addplot[dot, hblue] coordinates {(3.77,1e-4)(4.1,1e-4)(4.45,1e-4)(4.65,1e-4)(4.84,1e-4)(5.0,1e-4)
 (5.05,1e-4)(5.9,1e-4)(6.28,1e-4)};
\addplot[dot, hblue] coordinates {(0.17,1.3e-5)(0.37,1.3e-5)(0.41,1.3e-5)(0.88,1.3e-5)(3.43,1.3e-5)
 (4.85,1.3e-5)(5.32,1.3e-5)(5.38,1.3e-5)(6.51,1.3e-5)};
\addplot[dot, hred] coordinates {(2.36,1.3e-5)};
\end{axis}
\node[t] at (80bp,-666.3bp) {4 to 12 MeV/n He};
\node[t, text=hblue] at (233bp,-666.3bp) {4 to 12 MeV/n CNO};
\node[t, text=hred] at (395bp,-666.3bp) {4 to 12 MeV Fe};
\node[rotate=90] at (33bp,-761.5bp) {1/(cm\sups{2} s sr MeV/nuc.)};

\node[t] at (80bp,-885.7bp) {STEREO Ahead};
\node[t] at (292bp,-885.7bp) {Start: 29-Mar-2016 00:00 UTC};
\end{tikzpicture}
\end{document}
